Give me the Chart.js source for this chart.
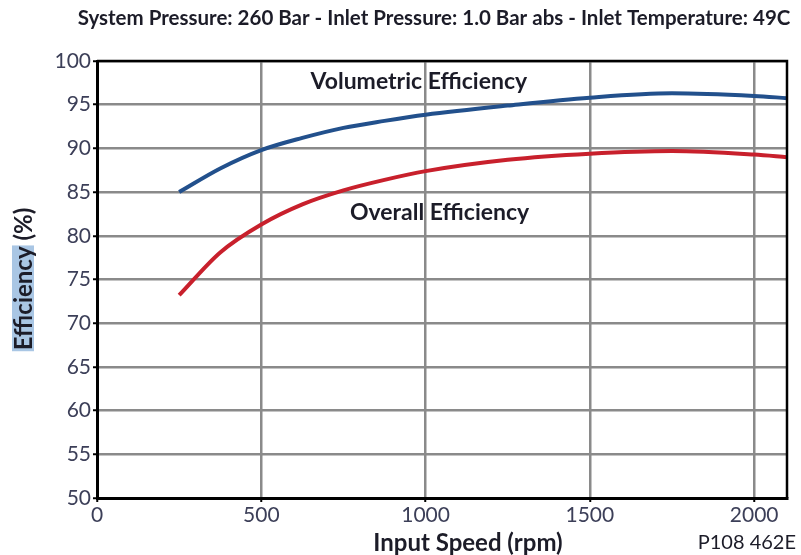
<!DOCTYPE html>
<html>
<head>
<meta charset="utf-8">
<script src="https://cdn.jsdelivr.net/npm/chart.js@4/dist/chart.umd.min.js"></script>
<style>
  html, body { margin: 0; padding: 0; background: #ffffff; }
  #wrap { width: 801px; height: 555px; position: relative; }
</style>
</head>
<body>
<div id="wrap"><canvas id="c" width="801" height="555"></canvas></div>
<script>
// Pump efficiency vs. input speed
const speedRpm      = [250, 375, 500, 625, 750, 875, 1000, 1250, 1500, 1750, 2000, 2100];
const volumetricEff = [85.0, 87.7, 89.8, 91.2, 92.35, 93.15, 93.85, 94.9, 95.8, 96.3, 96.0, 95.75];
const overallEff    = [73.2, 78.1, 81.3, 83.6, 85.2, 86.4, 87.4, 88.7, 89.4, 89.7, 89.3, 89.0];

const xTickValues = [0, 500, 1000, 1500, 2000];
const yTickValues = [50, 55, 60, 65, 70, 75, 80, 85, 90, 95, 100];

const chartTitle  = 'System Pressure: 260 Bar - Inlet Pressure: 1.0 Bar abs - Inlet Temperature: 49C';
const xAxisTitle  = 'Input Speed (rpm)';
const yAxisWord   = 'Efficiency';
const yAxisUnit   = ' (%)';
const docCode     = 'P108 462E';
const seriesNames = ['Volumetric Efficiency', 'Overall Efficiency'];
// left/middle anchor of each curve label, in data units (rpm, %)
const labelAnchors = [[650, 97.7], [770, 82.6]];

const FONT = 'Lato, "Open Sans", sans-serif';
const TICK_COLOR = '#3c3f58';
const TEXT_COLOR = '#1c1c28';

const toXY = (xs, ys) => xs.map((x, i) => ({ x, y: ys[i] }));
const fixedTicks = values => scale => { scale.ticks = values.map(v => ({ value: v })); };

const decor = {
  id: 'decor',
  afterDraw(chart) {
    const { ctx, chartArea: a, scales } = chart;
    ctx.save();

    // top and right frame
    ctx.strokeStyle = '#000';
    ctx.lineWidth = 2.5;
    ctx.beginPath();
    ctx.moveTo(a.left, a.top);
    ctx.lineTo(a.right, a.top);
    ctx.lineTo(a.right, a.bottom);
    ctx.stroke();

    // heading
    ctx.fillStyle = TEXT_COLOR;
    ctx.font = 'bold 20.5px ' + FONT;
    ctx.textAlign = 'center';
    ctx.textBaseline = 'middle';
    ctx.fillText(chartTitle, 434, 18);

    // x axis title
    ctx.font = 'bold 24px ' + FONT;
    ctx.fillText(xAxisTitle, 468, 543);

    // document code
    ctx.font = '20px ' + FONT;
    ctx.textAlign = 'right';
    ctx.fillText(docCode, 796, 543);

    // y axis title, rotated, with highlighted first word
    ctx.translate(23, 279);
    ctx.rotate(-Math.PI / 2);
    ctx.font = 'bold 24px ' + FONT;
    const wWord = ctx.measureText(yAxisWord).width;
    const wAll = ctx.measureText(yAxisWord + yAxisUnit).width;
    const x0 = -wAll / 2;
    ctx.fillStyle = '#a9c6e4';
    ctx.fillRect(x0 - 1, -11, wWord + 2, 22);
    ctx.fillStyle = TEXT_COLOR;
    ctx.textAlign = 'left';
    ctx.fillText(yAxisWord + yAxisUnit, x0, 1);
    ctx.setTransform(1, 0, 0, 1, 0, 0);

    // curve labels
    ctx.font = 'bold 23px ' + FONT;
    ctx.textAlign = 'left';
    ctx.textBaseline = 'middle';
    seriesNames.forEach((name, i) => {
      const [rx, ry] = labelAnchors[i];
      ctx.fillText(name, scales.x.getPixelForValue(rx), scales.y.getPixelForValue(ry));
    });

    ctx.restore();
  }
};

new Chart(document.getElementById('c'), {
  type: 'line',
  data: {
    datasets: [
      {
        label: seriesNames[0],
        data: toXY(speedRpm, volumetricEff),
        borderColor: '#22508c',
        borderWidth: 4,
        pointRadius: 0,
        cubicInterpolationMode: 'monotone',
        fill: false
      },
      {
        label: seriesNames[1],
        data: toXY(speedRpm, overallEff),
        borderColor: '#c8202c',
        borderWidth: 4,
        pointRadius: 0,
        cubicInterpolationMode: 'monotone',
        fill: false
      }
    ]
  },
  options: {
    responsive: false,
    devicePixelRatio: 1,
    animation: false,
    layout: { padding: { top: 61, right: 14, left: 0, bottom: 0 } },
    plugins: {
      legend: { display: false },
      title: { display: false },
      tooltip: { enabled: false }
    },
    scales: {
      x: {
        type: 'linear',
        min: 0,
        max: 2100,
        afterBuildTicks: fixedTicks(xTickValues),
        afterFit(scale) { scale.height = 57; },
        ticks: {
          maxRotation: 0,
          padding: 1,
          color: TICK_COLOR,
          font: { family: FONT, size: 21 },
          callback: v => String(v)
        },
        grid: {
          color: '#8a8a8a',
          lineWidth: 2.5,
          tickColor: '#000',
          tickLength: 4,
          tickWidth: 2
        },
        border: { color: '#000', width: 3 }
      },
      y: {
        min: 50,
        max: 100,
        afterBuildTicks: fixedTicks(yTickValues),
        afterFit(scale) { scale.width = 97; },
        ticks: {
          padding: 2,
          color: TICK_COLOR,
          font: { family: FONT, size: 21 },
          callback: v => String(v)
        },
        grid: {
          color: '#8a8a8a',
          lineWidth: 2.5,
          tickColor: '#000',
          tickLength: 4,
          tickWidth: 2
        },
        border: { color: '#000', width: 3 }
      }
    }
  },
  plugins: [decor]
});
</script>
</body>
</html>
